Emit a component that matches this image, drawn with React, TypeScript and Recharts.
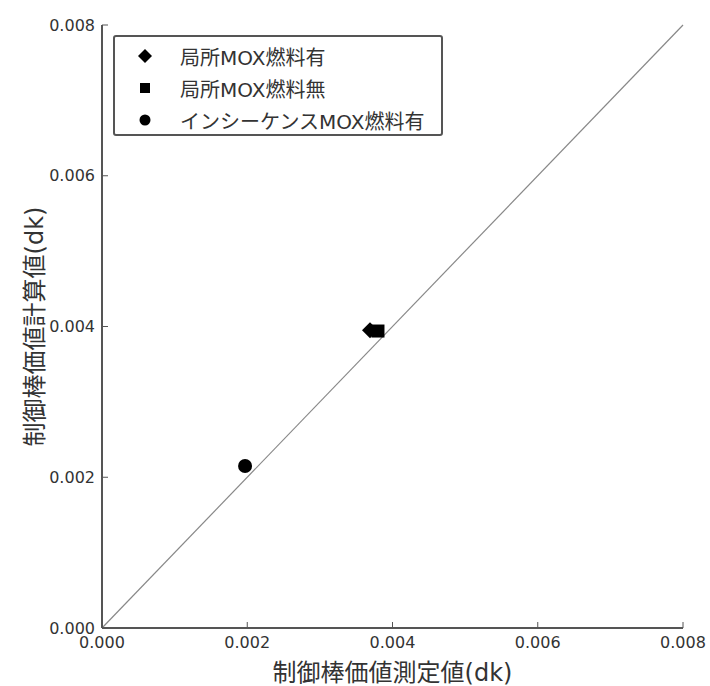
import { ScatterChart, Scatter, XAxis, YAxis, ReferenceLine } from "recharts";

const seriesNames = ["局所MOX燃料有", "局所MOX燃料無", "インシーケンスMOX燃料有"];
const localWithMox = [{ x: 0.00369, y: 0.00395 }];
const localWithoutMox = [{ x: 0.0038, y: 0.00394 }];
const inSequenceMox = [{ x: 0.00197, y: 0.00215 }];
const axisTicks = [0, 0.002, 0.004, 0.006, 0.008];

const FONT = "'DejaVu Sans', 'Noto Sans CJK JP', sans-serif";
const INK = "#333";
const FRAME = "#555";

function Diamond({ cx, cy, r = 8 }: { cx?: number; cy?: number; r?: number }) {
  if (cx == null || cy == null) return null;
  return (
    <path
      d={`M${cx},${cy - r}L${cx + r},${cy}L${cx},${cy + r}L${cx - r},${cy}Z`}
      fill="#000"
    />
  );
}

function Square({ cx, cy, s = 13 }: { cx?: number; cy?: number; s?: number }) {
  if (cx == null || cy == null) return null;
  return <rect x={cx - s / 2} y={cy - s / 2} width={s} height={s} fill="#000" />;
}

function Dot({ cx, cy, r = 7 }: { cx?: number; cy?: number; r?: number }) {
  if (cx == null || cy == null) return null;
  return <circle cx={cx} cy={cy} r={r} fill="#000" />;
}

function LegendBox() {
  const icons = [
    <Diamond cx={10} cy={10} r={7} />,
    <Square cx={10} cy={10} s={10} />,
    <Dot cx={10} cy={10} r={5.5} />,
  ];
  return (
    <div
      style={{
        position: "absolute",
        left: 113,
        top: 35,
        width: 326,
        height: 94,
        border: `2px solid ${FRAME}`,
        borderRadius: 3,
        background: "#fff",
        fontFamily: FONT,
        fontSize: 20,
        color: INK,
        paddingTop: 3,
      }}
    >
      {seriesNames.map((name, i) => (
        <div key={name} style={{ display: "flex", alignItems: "center", height: 32 }}>
          <svg width={20} height={20} style={{ marginLeft: 20, marginRight: 25 }}>
            {icons[i]}
          </svg>
          <span>{name}</span>
        </div>
      ))}
    </div>
  );
}

const fmt = (v: number) => v.toFixed(3);

export default function App() {
  return (
    <div style={{ position: "absolute", left: 0, top: 0, width: 710, height: 686, background: "#fff" }}>
      <ScatterChart
        width={710}
        height={686}
        margin={{ top: 25, right: 27, bottom: 0, left: 0 }}
        style={{ fontFamily: FONT }}
      >
        <XAxis
          xAxisId="b"
          type="number"
          dataKey="x"
          domain={[0, 0.008]}
          ticks={axisTicks}
          tickFormatter={fmt}
          height={58}
          tickSize={-6}
          tickMargin={15}
          axisLine={{ stroke: FRAME, strokeWidth: 2 }}
          tickLine={{ stroke: FRAME }}
          tick={{ fill: INK, fontSize: 16 }}
          label={{
            value: "制御棒価値測定値(dk)",
            position: "insideBottom",
            offset: 5,
            fill: INK,
            fontSize: 24,
          }}
        />
        <XAxis
          xAxisId="t"
          orientation="top"
          type="number"
          dataKey="x"
          domain={[0, 0.008]}
          ticks={axisTicks}
          tickFormatter={() => ""}
          height={0}
          tickSize={-6}
          axisLine={{ stroke: FRAME, strokeWidth: 2 }}
          tickLine={{ stroke: FRAME }}
        />
        <YAxis
          yAxisId="l"
          type="number"
          dataKey="y"
          domain={[0, 0.008]}
          ticks={axisTicks}
          tickFormatter={fmt}
          width={102}
          tickSize={-6}
          tickMargin={13}
          axisLine={{ stroke: FRAME, strokeWidth: 2 }}
          tickLine={{ stroke: FRAME }}
          tick={{ fill: INK, fontSize: 16 }}
          label={{
            value: "制御棒価値計算値(dk)",
            angle: -90,
            position: "insideLeft",
            offset: 34,
            fill: INK,
            fontSize: 24,
            style: { textAnchor: "middle" },
          }}
        />
        <YAxis
          yAxisId="r"
          orientation="right"
          type="number"
          dataKey="y"
          domain={[0, 0.008]}
          ticks={axisTicks}
          tickFormatter={() => ""}
          width={0}
          tickSize={-6}
          axisLine={{ stroke: FRAME, strokeWidth: 2 }}
          tickLine={{ stroke: FRAME }}
        />
        <ReferenceLine
          xAxisId="b"
          yAxisId="l"
          segment={[
            { x: 0, y: 0 },
            { x: 0.008, y: 0.008 },
          ]}
          stroke="#888"
          strokeWidth={1.2}
        />
        <Scatter
          name={seriesNames[0]}
          xAxisId="b"
          yAxisId="l"
          data={localWithMox}
          shape={(p: any) => <Diamond cx={p.cx} cy={p.cy} />}
          isAnimationActive={false}
        />
        <Scatter
          name={seriesNames[1]}
          xAxisId="b"
          yAxisId="l"
          data={localWithoutMox}
          shape={(p: any) => <Square cx={p.cx} cy={p.cy} />}
          isAnimationActive={false}
        />
        <Scatter
          name={seriesNames[2]}
          xAxisId="b"
          yAxisId="l"
          data={inSequenceMox}
          shape={(p: any) => <Dot cx={p.cx} cy={p.cy} />}
          isAnimationActive={false}
        />
      </ScatterChart>
      <LegendBox />
    </div>
  );
}
